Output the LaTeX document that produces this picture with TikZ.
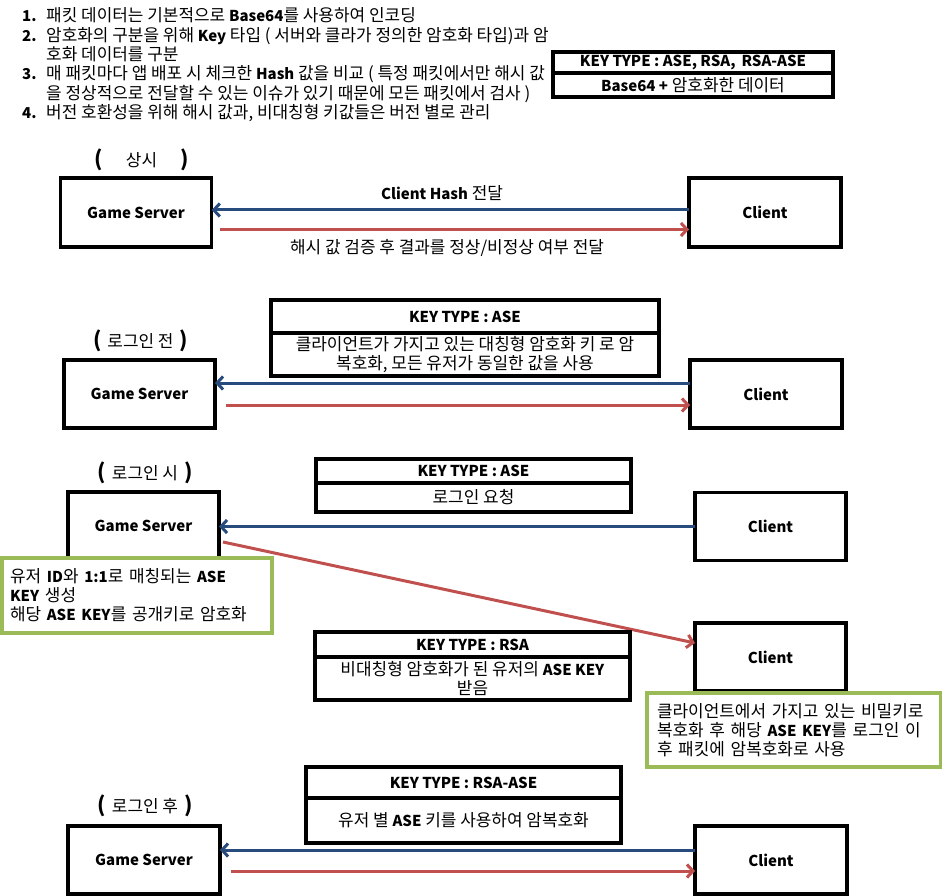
\documentclass[tikz,border=0pt]{standalone}
\usepackage{fontspec}
\setmainfont{Noto Sans CJK KR}[UprightFeatures={Scale=1.13},BoldFeatures={Scale=1.0}]
\usetikzlibrary{arrows.meta,positioning}
\definecolor{ArrowBlue}{RGB}{40,75,125}
\definecolor{ArrowRed}{RGB}{192,80,77}
\definecolor{NoteGreen}{RGB}{155,187,89}
\newcommand\krfont{\fontsize{15}{19}\selectfont}
\newcommand\bigparen[1]{{\fontsize{21}{21}\selectfont\bfseries #1}}
\newcommand\phasetxt[1]{\makebox[95pt]{\bigparen{(}\hfill#1\hfill\bigparen{)}}}

\begin{document}
\begin{tikzpicture}[x=1pt,y=-1pt,
  unit/.style={draw,line width=3.2pt,minimum width=152pt,minimum height=68pt,
               inner sep=0pt,outer sep=0pt,font=\krfont\bfseries},
  keyhd/.style={draw,line width=3.2pt,inner sep=0pt,outer sep=0pt,
                anchor=north,font=\krfont\bfseries},
  keybd/.style={draw,line width=3.2pt,inner sep=0pt,outer sep=0pt,
                anchor=north,align=center,font=\krfont},
  note/.style={draw=NoteGreen,line width=3.2pt,fill=white,inner ysep=0pt,
               align=left,font=\krfont},
  phase/.style={inner sep=0pt,font=\krfont},
  lbl/.style={inner sep=0pt,font=\krfont},
  toSrv/.style={ArrowBlue,line width=3pt,-{Straight Barb[length=6pt,width=13pt]}},
  toCli/.style={ArrowRed,line width=3pt,-{Straight Barb[length=6pt,width=13pt]}}]
  \useasboundingbox (0,0) rectangle (942,896);

  % rules
  \node[anchor=north west,inner sep=0pt,font=\fontsize{15}{17.7}\selectfont]
        (rules) at (22,7.6) {%
    \begin{tabular}{@{}p{24pt}@{}l@{}}
    \textbf{1.} & 패킷 데이터는 기본적으로 \textbf{Base64}를 사용하여 인코딩\\
    \textbf{2.} & 암호화의 구분을 위해 \textbf{Key} 타입 ( 서버와 클라가 정의한 암호화 타입)과 암\\
                & 호화 데이터를 구분\\
    \textbf{3.} & 매 패킷마다 앱 배포 시 체크한 \textbf{Hash} 값을 비교 ( 특정 패킷에서만 해시 값\\
                & 을 정상적으로 전달할 수 있는 이슈가 있기 때문에 모든 패킷에서 검사 )\\
    \textbf{4.} & 버전 호환성을 위해 해시 값과, 비대칭형 키값들은 버전 별로 관리
    \end{tabular}};
  \node[keyhd,minimum width=280pt,minimum height=21pt] (kt0h) at (693,52)
        {KEY TYPE : ASE, RSA,\, RSA-ASE};
  \node[keybd,minimum width=280pt,minimum height=24pt] (kt0b) at (kt0h.south)
        {\textbf{Base64 +} 암호화한 데이터};

  % always
  \node[phase] (p1) at (141.5,160) {\phasetxt{상시}};
  \node[unit,minimum width=151.5pt,minimum height=69pt] (gs1) at (136,212.5) {Game Server};
  \node[unit,minimum height=69pt] (cl1) at (765,212.5) {Client};
  \draw[toSrv] ([yshift=2.5pt]cl1.west) -- ([yshift=2.5pt]gs1.east);
  \draw[toCli] ([xshift=8pt,yshift=-17pt]gs1.east) -- ([yshift=-17pt]cl1.west);
  \node[lbl] (m1a) at (442,193) {\textbf{Client Hash} 전달};
  \node[lbl] (m1b) at (447,248) {해시 값 검증 후 결과를 정상/비정상 여부 전달};

  % before login
  \node[phase] (p2) at (140.5,341) {\phasetxt{로그인 전}};
  \node[keyhd,minimum width=388pt,minimum height=33pt] (k2h) at (465,300)
        {KEY TYPE : ASE};
  \node[keybd,minimum width=388pt,minimum height=43pt] (k2b) at (k2h.south)
        {클라이언트가 가지고 있는 대칭형 암호화 키 로 암\\복호화, 모든 유저가 동일한 값을 사용};
  \node[unit,minimum width=151pt] (gs2) at (139.5,394) {Game Server};
  \node[unit] (cl2) at (766,394) {Client};
  \draw[toSrv] ([yshift=11pt]cl2.west) -- ([yshift=11pt]gs2.east);
  \draw[toCli] ([xshift=11pt,yshift=-11pt]gs2.east) -- ([yshift=-11pt]cl2.west);

  % at login
  \node[phase] (p3) at (145,473) {\phasetxt{로그인 시}};
  \node[keyhd,minimum width=315pt,minimum height=24pt] (k3h) at (473.5,459)
        {KEY TYPE : ASE};
  \node[keybd,minimum width=315pt,minimum height=29pt] (k3b) at (k3h.south)
        {로그인 요청};
  \node[unit,minimum width=151pt] (gs3) at (143.5,526) {Game Server};
  \node[unit,minimum width=151pt] (cl3) at (770.5,526.5) {Client};
  \node[unit,minimum width=151pt] (cl4) at (770.5,657) {Client};
  \draw[toSrv] (cl3.west) -- (cl3.west -| gs3.east);
  \draw[toCli] ([xshift=4pt,yshift=-16pt]gs3.east) -- ([yshift=14pt]cl4.west);
  \node[keyhd,minimum width=315pt,minimum height=25pt] (k4h) at (472.5,632)
        {KEY TYPE : RSA};
  \node[keybd,minimum width=315pt,minimum height=43pt] (k4b) at (k4h.south)
        {비대칭형 암호화가 된 유저의 \textbf{ASE KEY}\\받음};
  \node[note,inner xsep=8pt,text width=254pt,minimum height=75pt] (g1) at (137,595.5)
        {유저 \textbf{ID}와 \textbf{1:1}로 매칭되는 \textbf{ASE}\\\textbf{KEY} 생성\\해당 \textbf{ASE KEY}를 공개키로 암호화};
  \node[note,inner xsep=10pt,text width=273.5pt,minimum height=74pt] (g2) at (793.75,730)
        {클라이언트에서 가지고 있는 비밀키로\\복호화 후 해당 \textbf{ASE KEY}를 로그인 이\\후 패킷에 암복호화로 사용};

  % after login
  \node[phase] (p4) at (145,806) {\phasetxt{로그인 후}};
  \node[keyhd,minimum width=315pt,minimum height=31pt] (k5h) at (463.5,767)
        {KEY TYPE : RSA-ASE};
  \node[keybd,minimum width=315pt,minimum height=45pt] (k5b) at (k5h.south)
        {유저 별 \textbf{ASE} 키를 사용하여 암복호화};
  \node[unit] (gs4) at (144,860) {Game Server};
  \node[unit] (cl5) at (771,860) {Client};
  \draw[toSrv] ([yshift=10pt]cl5.west) -- ([yshift=10pt]gs4.east);
  \draw[toCli] ([xshift=11pt,yshift=-11pt]gs4.east) -- ([yshift=-11pt]cl5.west);
\end{tikzpicture}
\end{document}
